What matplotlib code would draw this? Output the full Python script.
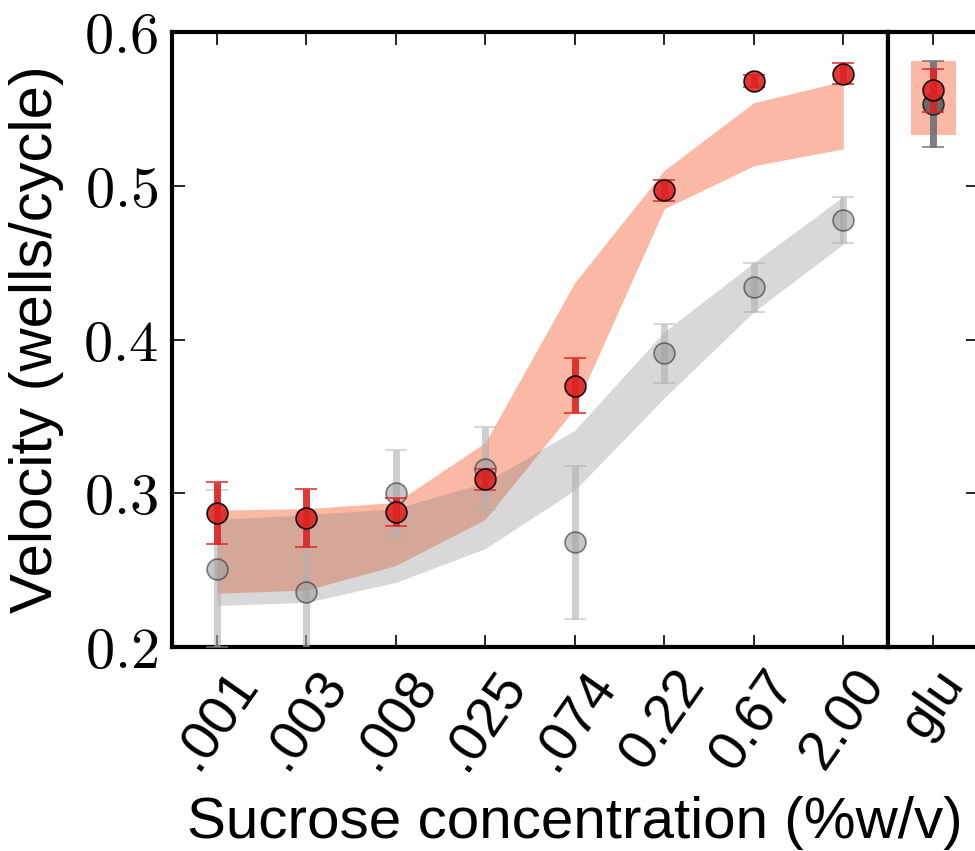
import numpy as np
import matplotlib.pyplot as plt

plt.rcParams['font.family'] = ['Liberation Sans', 'DejaVu Sans']
plt.rcParams['mathtext.fontset'] = 'cm'

# sucrose series (x categories)
conc_labels = ['.001', '.003', '.008', '.025', '.074', '0.22', '0.67', '2.00']

# red condition: points with error bars and shaded band
red_mean = [0.287, 0.284, 0.288, 0.309, 0.370, 0.497, 0.568, 0.573]
red_err = [0.020, 0.019, 0.009, 0.007, 0.018, 0.007, 0.004, 0.007]
red_lo = [0.235, 0.237, 0.253, 0.283, 0.355, 0.485, 0.513, 0.524]
red_hi = [0.289, 0.290, 0.294, 0.333, 0.437, 0.510, 0.554, 0.568]

# gray condition
gray_mean = [0.251, 0.236, 0.300, 0.316, 0.268, 0.391, 0.434, 0.478]
gray_err = [0.051, 0.052, 0.028, 0.027, 0.050, 0.019, 0.016, 0.015]
gray_lo = [0.227, 0.229, 0.242, 0.264, 0.302, 0.362, 0.418, 0.462]
gray_hi = [0.283, 0.286, 0.290, 0.307, 0.341, 0.405, 0.450, 0.493]

# glucose reference
glu_label = ['glu']
glu_red_mean = [0.562]
glu_red_err = [0.014]
glu_gray_mean = [0.553]
glu_gray_err = [0.028]
glu_band = [0.533, 0.581]

RED = '#dc2424'
BAND_RED = '#f7734d'
SPINE_W = 3.0
ROT = 55


def style_axes(ax, left_ticks=True):
    for s in ax.spines.values():
        s.set_linewidth(SPINE_W)
    ax.tick_params(direction='in', length=9, width=1.2, top=True, bottom=True,
                   left=left_ticks, right=not left_ticks, pad=10)
    ax.set_ylim(0.2, 0.6)
    ax.set_yticks([0.2, 0.3, 0.4, 0.5, 0.6])


fig = plt.figure(figsize=(9.75, 8.51), dpi=100)
ax = fig.add_axes([172 / 975, 204 / 851, 716 / 975, 615 / 851])
ax2 = fig.add_axes([888 / 975, 204 / 851, 90 / 975, 615 / 851])

x = np.arange(len(conc_labels))

ax.fill_between(x, red_lo, red_hi, color=BAND_RED, alpha=0.5, lw=0, zorder=1)
ax.fill_between(x, gray_lo, gray_hi, color='gray', alpha=0.3, lw=0, zorder=2)

ax.errorbar(x, gray_mean, yerr=gray_err, fmt='o', ms=15, mfc='#a0a0a0', mec='#303030',
            mew=1.2, ecolor='#b0b0b0', elinewidth=5, capsize=8, capthick=1.2,
            alpha=0.6, zorder=3)
ax.errorbar(x, red_mean, yerr=red_err, fmt='o', ms=15, mfc=RED, mec='k',
            mew=1.2, ecolor=RED, elinewidth=5, capsize=8, capthick=1.2,
            alpha=0.9, zorder=4)

style_axes(ax, left_ticks=True)
ax.set_xlim(-0.5, len(conc_labels) - 0.5)
ax.set_xticks(x)
ax.set_xticklabels(conc_labels, rotation=ROT, ha='center', fontsize=40)
ax.set_yticklabels([r'$%.1f$' % v for v in [0.2, 0.3, 0.4, 0.5, 0.6]], fontsize=42)
ax.set_ylabel('Velocity (wells/cycle)', fontsize=43, labelpad=14)

# glucose panel
gx = np.arange(len(glu_label))
ax2.fill_between([-0.25, 0.25], [glu_band[0]] * 2, [glu_band[1]] * 2,
                 color=BAND_RED, alpha=0.5, lw=0, zorder=1)
ax2.errorbar(gx, glu_gray_mean, yerr=glu_gray_err, fmt='o', ms=15, mfc='#606060',
             mec='#202020', mew=1.2, ecolor='#707070', elinewidth=5, capsize=8,
             capthick=1.2, alpha=0.9, zorder=3)
ax2.errorbar(gx, glu_red_mean, yerr=glu_red_err, fmt='o', ms=15, mfc=RED, mec='k',
             mew=1.2, ecolor=RED, elinewidth=5, capsize=8, capthick=1.2,
             alpha=0.9, zorder=4)
style_axes(ax2, left_ticks=False)
ax2.set_xlim(-0.5, 0.5)
ax2.set_xticks(gx)
ax2.set_xticklabels(glu_label, rotation=ROT, ha='center', fontsize=38)
ax2.set_yticklabels([])

# x label centred under both panels
fig.text(575 / 975, 13 / 851, 'Sucrose concentration (%w/v)', fontsize=42,
         ha='center', va='baseline')

fig.savefig('out.png', dpi=100)
